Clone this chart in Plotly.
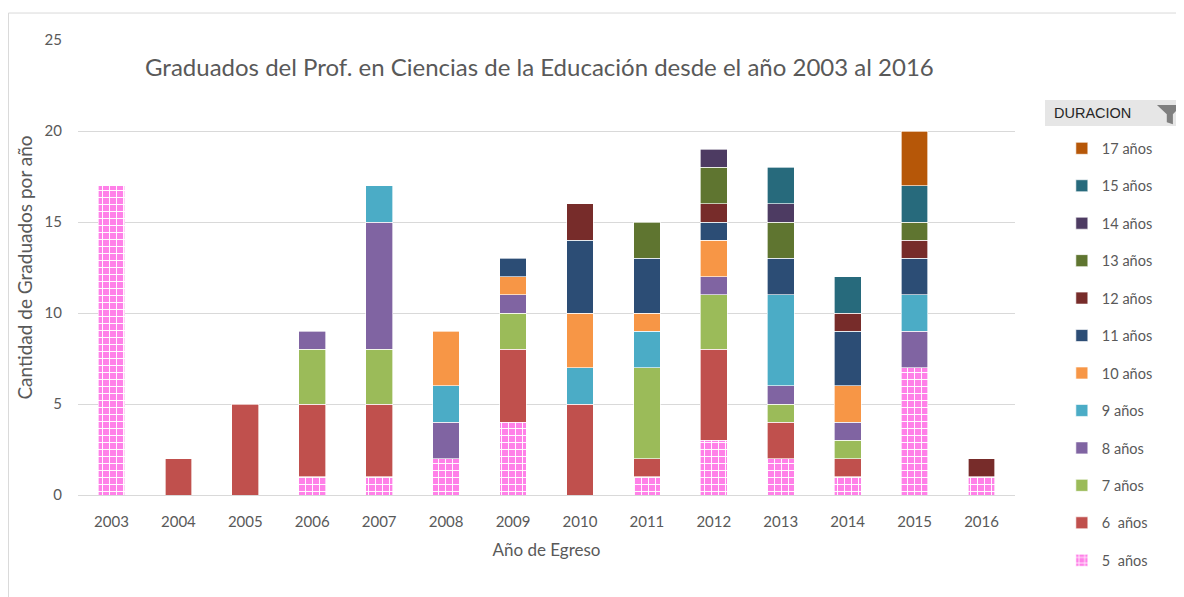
import plotly.graph_objects as go

years = ["2003", "2004", "2005", "2006", "2007", "2008", "2009",
         "2010", "2011", "2012", "2013", "2014", "2015", "2016"]

s5 = [17, 0, 0, 1, 1, 2, 4, 0, 1, 3, 2, 1, 7, 1]
s6 = [0, 2, 5, 4, 4, 0, 4, 5, 1, 5, 2, 1, 0, 0]
s7 = [0, 0, 0, 3, 3, 0, 2, 0, 5, 3, 1, 1, 0, 0]
s8 = [0, 0, 0, 1, 7, 2, 1, 0, 0, 1, 1, 1, 2, 0]
s9 = [0, 0, 0, 0, 2, 2, 0, 2, 2, 0, 5, 0, 2, 0]
s10 = [0, 0, 0, 0, 0, 3, 1, 3, 1, 2, 0, 2, 0, 0]
s11 = [0, 0, 0, 0, 0, 0, 1, 4, 3, 1, 2, 3, 2, 0]
s12 = [0, 0, 0, 0, 0, 0, 0, 2, 0, 1, 0, 1, 1, 1]
s13 = [0, 0, 0, 0, 0, 0, 0, 0, 2, 2, 2, 0, 1, 0]
s14 = [0, 0, 0, 0, 0, 0, 0, 0, 0, 1, 1, 0, 0, 0]
s15 = [0, 0, 0, 0, 0, 0, 0, 0, 0, 0, 2, 2, 2, 0]
s17 = [0, 0, 0, 0, 0, 0, 0, 0, 0, 0, 0, 0, 3, 0]

series_names = ["5  años", "6  años", "7 años", "8 años", "9 años", "10 años",
                "11 años", "12 años", "13 años", "14 años", "15 años", "17 años"]
series_values = [s5, s6, s7, s8, s9, s10, s11, s12, s13, s14, s15, s17]
colors = ["#FF80E8", "#C0504D", "#9BBB59", "#8064A2", "#4BACC6", "#F79646",
          "#2C4D75", "#772C2A", "#5F7530", "#4D3B62", "#276A7C", "#B65708"]

fig = go.Figure()
n = len(series_names)
for i, (name, vals, col) in enumerate(zip(series_names, series_values, colors)):
    y = [v if v else None for v in vals]
    marker = dict(color=col, line=dict(color="rgba(255,255,255,0.8)", width=0.8))
    if i == 0:
        marker["pattern"] = dict(shape="+", fgcolor="white", bgcolor=col,
                                 size=7, solidity=0.25, fillmode="replace")
    fig.add_trace(go.Bar(x=years, y=y, name=name, marker=marker,
                         legendgroup=name, legendrank=100 + (n - i),
                         hoverinfo="x+y+name"))

grey = "#595959"
fig.update_layout(
    barmode="stack",
    bargap=0.6,
    width=1184, height=597,
    margin=dict(l=70, r=177, t=32, b=110),
    paper_bgcolor="white",
    plot_bgcolor="white",
    font=dict(family="Lato, 'Open Sans', sans-serif", color=grey, size=14),
    showlegend=True,
    legend=dict(
        x=1.050, y=0.797, xanchor="left", yanchor="top",
        traceorder="grouped",
        tracegroupgap=15.6,
        font=dict(size=14.5, color=grey),
        itemwidth=30,
    ),
    xaxis=dict(
        type="category",
        showgrid=False,
        showline=True, linecolor="#D9D9D9", linewidth=1,
        ticks="", ticklabelstandoff=13,
        tickfont=dict(size=15, color=grey),
        title=dict(text="Año de Egreso", font=dict(size=17, color=grey), standoff=15),
    ),
    yaxis=dict(
        range=[0, 25],
        tickvals=[0, 5, 10, 15, 20, 25],
        showgrid=True, gridcolor="#D9D9D9", gridwidth=1,
        zeroline=False,
        showline=False,
        ticks="", ticklabelstandoff=15,
        tickfont=dict(size=15, color=grey),
        title=dict(text="Cantidad de Graduados por año",
                   font=dict(size=19, color=grey), standoff=6),
    ),
    annotations=[
        dict(text="Graduados del Prof. en Ciencias de la Educación desde el año 2003 al 2016",
             xref="paper", yref="paper", x=0.493, y=0.9407, xanchor="center", yanchor="middle",
             showarrow=False, font=dict(size=24, color=grey)),
        dict(text="DURACION", xref="paper", yref="paper",
             x=1.0395, y=0.8396, xanchor="left", yanchor="middle",
             showarrow=False, font=dict(size=14.5, color="#262626",
                                        family="'Liberation Sans Narrow', 'Liberation Sans', sans-serif")),
    ],
    shapes=[
        dict(type="rect", xref="paper", yref="paper",
             x0=-0.0742, x1=1.2, y0=-0.25, y1=1.0593,
             line=dict(color="#D9D9D9", width=1), fillcolor="rgba(0,0,0,0)", layer="below"),
        dict(type="rect", xref="paper", yref="paper",
             x0=1.032, x1=1.2, y0=0.811, y1=0.868,
             line=dict(width=0), fillcolor="#E6E6E6", layer="below"),
        dict(type="path", xref="paper", yref="paper",
             path="M 1.1515 0.857 L 1.178 0.857 L 1.1685 0.837 L 1.1685 0.815 L 1.1620 0.8195 L 1.1620 0.837 Z",
             line=dict(width=0), fillcolor="#7F7F7F"),
    ],
)

fig.write_html("out.html")
